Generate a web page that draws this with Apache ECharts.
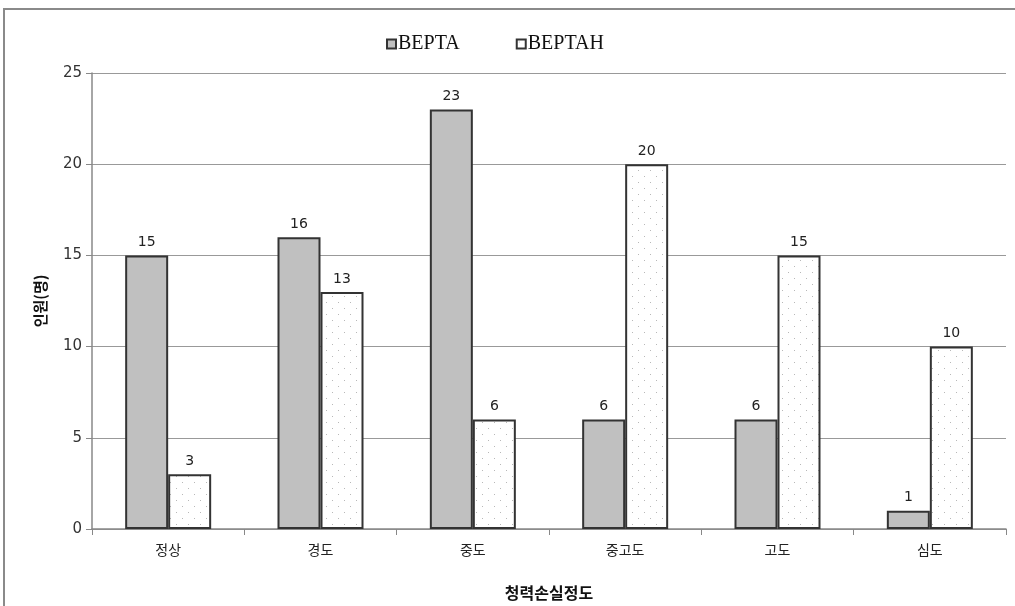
<!DOCTYPE html>
<html>
<head>
<meta charset="utf-8">
<script src="https://cdn.jsdelivr.net/npm/echarts@6/dist/echarts.min.js"></script>
<style>
  html, body { margin: 0; padding: 0; background: #fff; overflow: hidden; }
  #chart { width: 1015px; height: 606px; }
</style>
</head>
<body>
<div id="chart"></div>
<script>
// Hearing-loss grade categories and headcount per test
const categories = ['정상', '경도', '중도', '중고도', '고도', '심도'];
const bepta = [15, 16, 23, 6, 6, 1];
const beptah = [3, 13, 6, 20, 15, 10];
const yTicks = [0, 5, 10, 15, 20, 25];

// Small tile of staggered grey dots used as the BEPTAH fill
function dotPattern() {
  const c = document.createElement('canvas');
  c.width = 12; c.height = 12;
  const g = c.getContext('2d');
  g.fillStyle = '#fff';
  g.fillRect(0, 0, 12, 12);
  g.fillStyle = '#b8b8b8';
  g.fillRect(2, 2, 1, 1);
  g.fillRect(8, 8, 1, 1);
  return c;
}

const chart = echarts.init(document.getElementById('chart'), null, { renderer: 'canvas' });
const labelStyle = { show: true, position: 'top', distance: 6, color: '#222', fontSize: 14, fontFamily: 'DejaVu Sans' };

chart.setOption({
  animation: false,
  backgroundColor: '#fff',
  graphic: [{
    type: 'rect',
    shape: { x: 4, y: 9, width: 1100, height: 800 },
    style: { fill: 'none', stroke: '#8a8a8a', lineWidth: 2 }
  }],
  legend: {
    left: 381, top: 29,
    itemWidth: 9, itemHeight: 9, itemGap: 56,
    icon: 'rect',
    textStyle: { fontFamily: 'Liberation Serif', fontSize: 20, color: '#111', padding: [0, 0, 0, -3] },
    data: ['BEPTA', 'BEPTAH']
  },
  grid: { left: 92, width: 914, top: 73, height: 459 },
  xAxis: {
    type: 'category',
    data: categories,
    name: '청력손실정도',
    nameLocation: 'middle',
    nameGap: 56,
    nameTextStyle: { fontFamily: 'Noto Sans CJK KR', fontWeight: 'bold', fontSize: 16, color: '#111' },
    axisLine: { lineStyle: { color: '#888', width: 1.5 } },
    axisTick: { show: true, alignWithLabel: false, length: 6, lineStyle: { color: '#888' } },
    axisLabel: { fontFamily: 'Noto Sans CJK KR', fontSize: 14, color: '#222', margin: 14 }
  },
  yAxis: {
    type: 'value',
    min: yTicks[0], max: yTicks[yTicks.length - 1], interval: 5,
    name: '인원(명)',
    nameLocation: 'middle',
    nameGap: 44,
    nameRotate: 90,
    nameTextStyle: { fontFamily: 'Noto Sans CJK KR', fontWeight: 'bold', fontSize: 15, color: '#111' },
    axisLine: { show: true, lineStyle: { color: '#888', width: 1.5 } },
    axisTick: { show: true, length: 6, lineStyle: { color: '#888' } },
    axisLabel: { fontFamily: 'DejaVu Sans', fontSize: 15, color: '#333', margin: 10 },
    splitLine: { lineStyle: { color: '#999', width: 1 } }
  },
  series: [
    {
      name: 'BEPTA', type: 'bar', data: bepta,
      barWidth: 43, barGap: '0%',
      itemStyle: { color: '#c0c0c0', borderColor: '#333', borderWidth: 2 },
      label: labelStyle
    },
    {
      name: 'BEPTAH', type: 'bar', data: beptah,
      barWidth: 43,
      itemStyle: { color: { image: dotPattern(), repeat: 'repeat' }, borderColor: '#333', borderWidth: 2 },
      label: labelStyle
    }
  ]
});
</script>
</body>
</html>
